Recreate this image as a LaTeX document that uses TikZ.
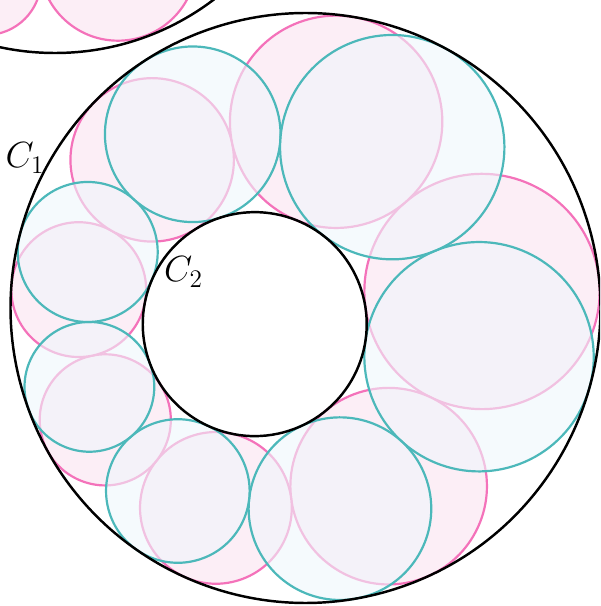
\documentclass[tikz,border=0pt]{standalone}
\usepackage{amsmath,amssymb}
\usepackage{tikz}
\usetikzlibrary{positioning}
\definecolor{chainpink}{RGB}{244,114,186}
\definecolor{pinkfill}{RGB}{252,238,246}
\definecolor{chainteal}{RGB}{76,184,186}
\definecolor{tealfill}{RGB}{239,246,251}

\begin{document}
\begin{tikzpicture}[scale=0.02,
    pinkdisc/.style={draw=chainpink,fill=pinkfill,line width=1.25pt},
    tealdisc/.style={draw=chainteal,fill=tealfill,fill opacity=0.6,line width=1.25pt},
    rim/.style={draw=black,line width=1.4pt}]
  \clip (-305.5,-298) rectangle (294.5,308);
  % neighbouring figure, top left
  \draw[pinkdisc] (-319.5,328) circle (55);
  \draw[pinkdisc] (-187.5,345.8) circle (78.5);
  \draw[rim] (-250.5,517.6) circle (262.6);
  % Steiner chains, inverted from concentric circles (C1 = unit circle)
  \begin{scope}[rotate=197.65,scale=295]
    \foreach \start/\sty in {8/pinkdisc,22/tealdisc}
      \foreach \k in {0,...,6} {
        \pgfmathsetmacro{\ang}{\start+360/7*\k}
        \pgfmathsetmacro{\dd}{22.546812-6.56484*cos(\ang)}
        \pgfmathsetmacro{\cx}{4.7066+21.152*(0.697406*cos(\ang)-4.7066)/\dd}
        \pgfmathsetmacro{\cy}{14.75153*sin(\ang)/\dd}
        \pgfmathsetmacro{\rr}{6.40047/\dd}
        \draw[\sty] (\cx,\cy) circle (\rr);
      }
    \draw[rim] (0,0) circle (1);
    \draw[rim] (0.180619,0) circle (0.37966);
  \end{scope}
  \node[font=\huge] (c1) at (-280.5,150) {$C_1$};
  \node[font=\huge] (c2) at (-122,36) {$C_2$};
\end{tikzpicture}
\end{document}
